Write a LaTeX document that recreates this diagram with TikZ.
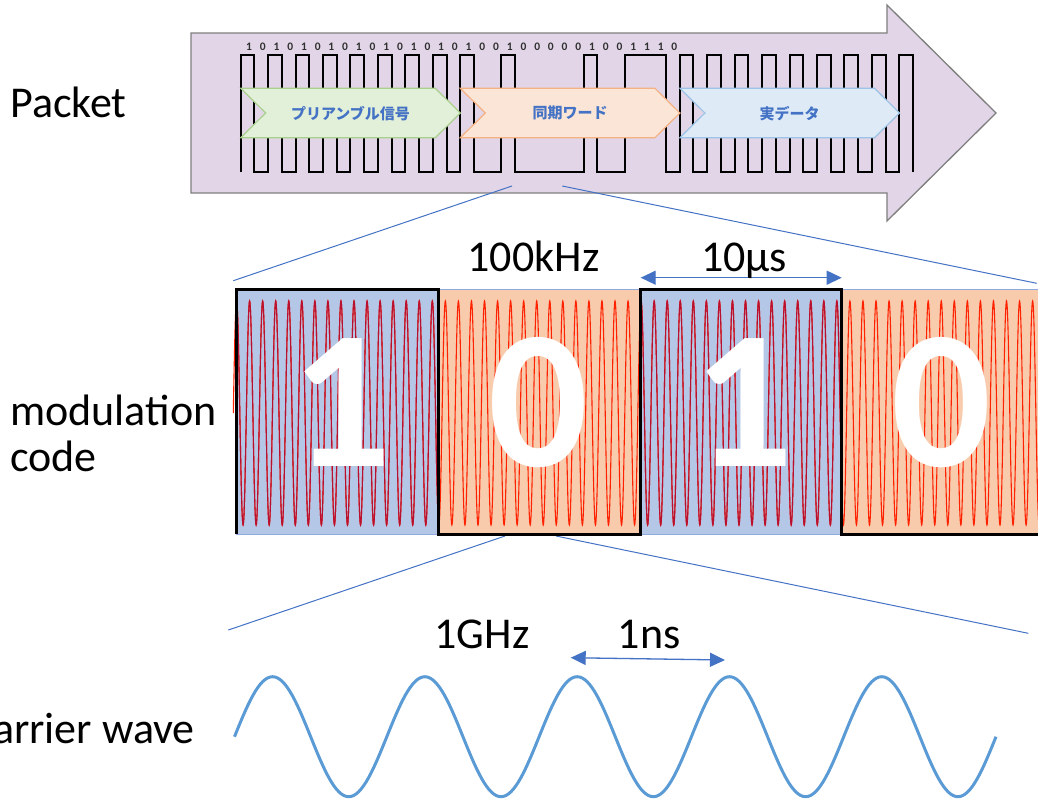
\documentclass[tikz,border=0pt]{standalone}
\usepackage{fontspec}
\setmainfont{Carlito}
\newfontfamily\jpfont{Noto Sans CJK JP}
\usetikzlibrary{arrows.meta}
\definecolor{pktfill}{HTML}{E1D5E7}
\definecolor{pktline}{HTML}{7F7F7F}
\definecolor{gfill}{HTML}{E2F0D9}
\definecolor{gline}{HTML}{A9D18E}
\definecolor{ofill}{HTML}{FBE5D6}
\definecolor{oline}{HTML}{F4B183}
\definecolor{bfill}{HTML}{DEEBF7}
\definecolor{bline}{HTML}{9DC3E6}
\definecolor{jptext}{HTML}{4472C4}
\definecolor{zoomline}{HTML}{4472C4}
\definecolor{mblue}{HTML}{B4C7E7}
\definecolor{morange}{HTML}{F8CBAD}
\definecolor{mline}{HTML}{8FAADC}
\definecolor{carrier}{HTML}{5B9BD5}
\definecolor{bitcol}{HTML}{303030}
\definecolor{wavered}{HTML}{FF2200}
\definecolor{wavedark}{HTML}{B81030}
\begin{document}
\begin{tikzpicture}[x=1pt,y=-1pt,
  lbl/.style={inner sep=0pt, font=\fontsize{44}{48}\selectfont},
  bitlbl/.style={inner sep=0pt, text=bitcol, font=\bfseries\fontsize{11.5}{12}\selectfont},
  jplbl/.style={inner sep=0pt, text=jptext, font=\jpfont\bfseries\fontsize{15}{15}\selectfont},
  bigdig/.style={inner sep=0pt, text=white, font=\bfseries\fontsize{197}{197}\selectfont},
  zoomln/.style={draw=zoomline, line width=1pt},
  dimarrow/.style={draw=zoomline, line width=1.3pt, {Triangle[length=15pt,width=14pt]}-{Triangle[length=15pt,width=14pt]}, fill=zoomline},
  sqwave/.style={draw=black, line width=2pt, line join=miter},
  modwave/.style={line width=1.1pt},
  carwave/.style={draw=carrier, line width=3pt}
]
\clip (0,0) rectangle (1038,801);
\fill[white] (0,0) rectangle (1038,801);

% ---------- packet arrow ----------
\draw[fill=pktfill, draw=pktline, line width=1.3pt]
  (191,33) -- (887,33) -- (887,5) -- (996,113) -- (887,221) -- (887,193) -- (191,193) -- cycle;

% square wave
\draw[sqwave] (240.7,172)
  \foreach \b [count=\i from 0] in {1,0,1,0,1,0,1,0,1,0,1,0,1,0,1,0,1,0,0,1,0,0,0,0,0,1,0,0,1,1,1,0,1,0,1,0,1,0,1,0,1,0,1,0,1,0,1,0,1}
  { -- ({240.7+\i*13.72},{172-117*\b}) -- ({240.7+(\i+1)*13.72},{172-117*\b}) }
  -- ({240.7+49*13.72},172);

% bit labels
\foreach \b [count=\i from 0] in {1,0,1,0,1,0,1,0,1,0,1,0,1,0,1,0,1,0,0,1,0,0,0,0,0,1,0,0,1,1,1,0}
  \node[bitlbl] (bit\i) at ({240.7+(\i+0.5)*13.72+1.5},47) {\b};

% chevrons
\foreach \xo/\fc/\dc in {240.7/gfill/gline, 460.3/ofill/oline, 679.9/bfill/bline}
  \draw[fill=\fc, draw=\dc, line width=1.2pt]
    (\xo,88.3) -- ++(194.6,0) -- ++(25,24.7) -- ++(-25,24.7) -- ++(-194.6,0) -- ++(25,-24.7) -- cycle;
\node[jplbl] (tpre)  at (350.5,113.3) {プリアンブル信号};
\node[jplbl] (tsync) at (570.1,113.3) {同期ワード};
\node[jplbl] (tdata) at (789.7,113.3) {実データ};

% ---------- zoom lines ----------
\coordinate (z1a) at (512,186);   \coordinate (z1b) at (233.3,280.7);
\coordinate (z2a) at (562.3,186); \coordinate (z2b) at (1036.7,283.3);
\coordinate (z3a) at (505,536);   \coordinate (z3b) at (228.3,630);
\coordinate (z4a) at (556,536);   \coordinate (z4b) at (1028.3,633.3);
\draw[zoomln] (z1a) -- (z1b);
\draw[zoomln] (z2a) -- (z2b);
\draw[zoomln] (z3a) -- (z3b);
\draw[zoomln] (z4a) -- (z4b);

% ---------- modulation code ----------
\foreach \xa/\xb/\fc in {236/438.3/mblue, 438.3/640.7/morange, 640.7/841.7/mblue, 841.7/1044/morange}
  \filldraw[fill=\fc, draw=mline, line width=0.8pt] (\xa,289) rectangle (\xb,534);

\draw[modwave, draw=wavered] (233.3,413)
  \foreach \k in {0,...,61}
  { sin ++(3.2625,-112) cos ++(3.2625,112) sin ++(3.2625,112) cos ++(3.2625,-112) };
\begin{scope}
  \clip (236,289) rectangle (438.3,534) (640.7,289) rectangle (841.7,534);
  \draw[modwave, draw=wavedark] (233.3,413)
    \foreach \k in {0,...,61}
    { sin ++(3.2625,-112) cos ++(3.2625,112) sin ++(3.2625,112) cos ++(3.2625,-112) };
\end{scope}

\node[bigdig] (d1) at (341.7,402.5) {1};
\node[bigdig] (d2) at (538.6,402.5) {0};
\node[bigdig] (d3) at (743.3,402.5) {1};
\node[bigdig] (d4) at (941.8,402.5) {0};

\draw[line width=3pt, line join=miter] (236,534) -- (236,289) -- (438.3,289) -- (438.3,534) -- (640.7,534)
  -- (640.7,289) -- (841.7,289) -- (841.7,534) -- (1045,534);

\coordinate (u1) at (640.7,277.7); \coordinate (u2) at (841.7,277.7);
\draw[dimarrow] (u1) -- (u2);
\node[lbl, anchor=base] (f1) at (533.5,271.7) {100kHz};
\node[lbl, anchor=base] (t1) at (744,271.7) {10µs};

% ---------- carrier wave ----------
\draw[carwave] (234.5,736.7)
  \foreach \k in {1,...,5}
  { sin ++(38.075,-60) cos ++(38.075,60) sin ++(38.075,60) cos ++(38.075,-60) };
\coordinate (v1) at (570.7,657.7); \coordinate (v2) at (725,660);
\draw[dimarrow] (v1) -- (v2);
\node[lbl, anchor=base] (f2) at (482,648.3) {1GHz};
\node[lbl, anchor=base] (t2) at (649,648.3) {1ns};

% ---------- left labels ----------
\node[lbl, anchor=base west] (lp) at (10,117.3) {Packet};
\node[lbl, anchor=base west] (lm) at (10,425) {modulation};
\node[lbl, anchor=base west] (lc) at (10,471.7) {code};
\node[lbl, anchor=base east] (lw) at (195,743.3) {Carrier wave};
\end{tikzpicture}
\end{document}
